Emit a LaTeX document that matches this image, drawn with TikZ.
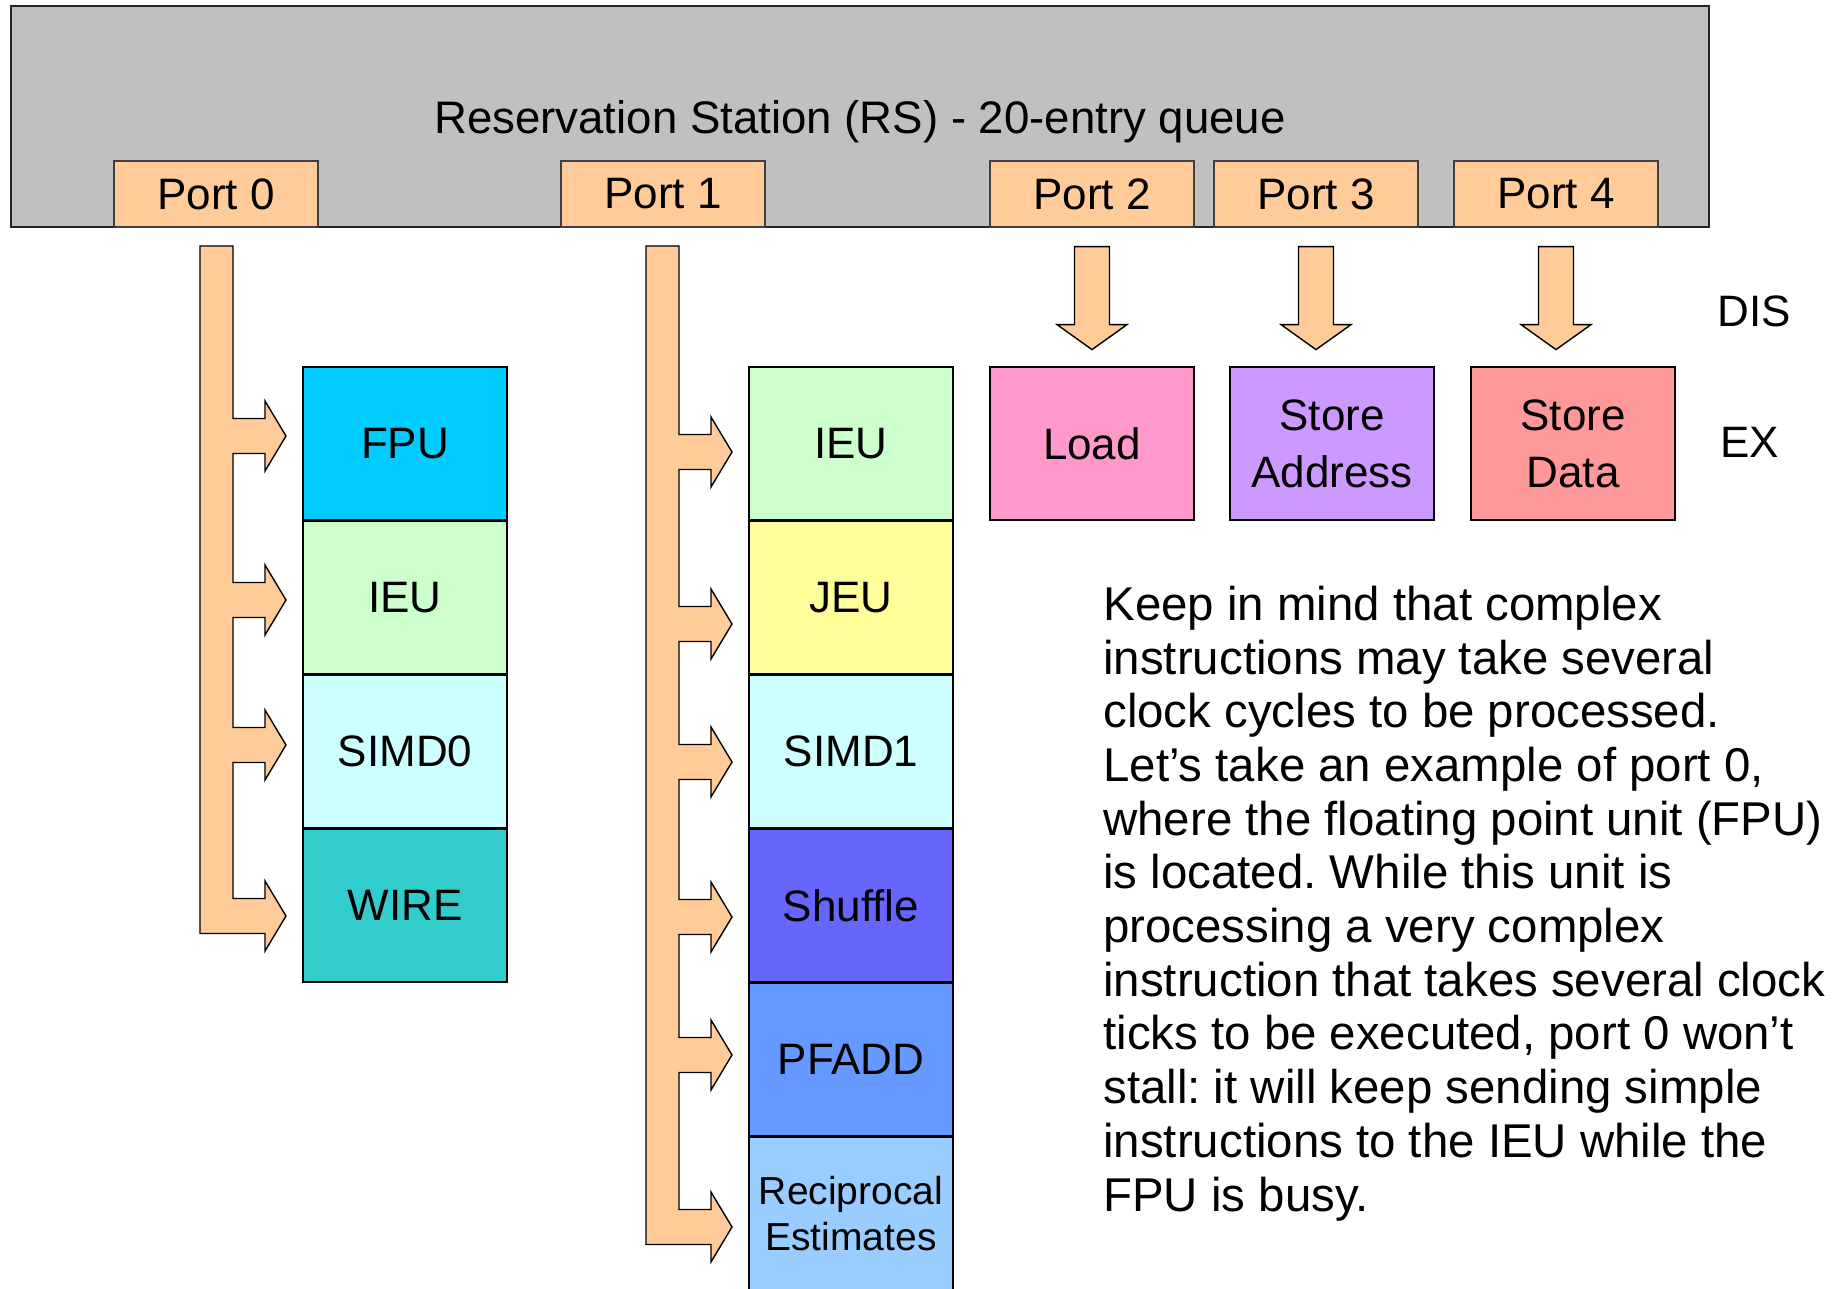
\documentclass[tikz,border=0pt]{standalone}
\usepackage{fontspec}
\setmainfont{Liberation Sans}
\usepackage{xcolor}
\usetikzlibrary{positioning}

\definecolor{rsgray}{HTML}{C0C0C0}
\definecolor{portorange}{HTML}{FFCC99}
\definecolor{fpucol}{HTML}{00CCFF}
\definecolor{ieucol}{HTML}{CCFFCC}
\definecolor{simdcol}{HTML}{CCFFFF}
\definecolor{wirecol}{HTML}{33CCCC}
\definecolor{jeucol}{HTML}{FFFF99}
\definecolor{shufcol}{HTML}{6666FF}
\definecolor{pfaddcol}{HTML}{6699FF}
\definecolor{recipcol}{HTML}{99CCFF}
\definecolor{loadcol}{HTML}{FF99CC}
\definecolor{staddrcol}{HTML}{CC99FF}
\definecolor{stdatacol}{HTML}{FF9999}

\begin{document}
\begin{tikzpicture}[
    x=50pt, y=-50pt,
    node distance=0pt,
    rs/.style={rectangle, draw=black!85, line width=0.9pt, fill=rsgray, minimum width=849pt, minimum height=110.5pt, text depth=0pt, font=\fontsize{22.8}{26}\selectfont},
    port/.style={rectangle, draw=black!75, line width=0.6pt, fill=portorange, minimum width=102pt, minimum height=33pt, inner sep=0pt, font=\fontsize{22}{26}\selectfont},
    unit/.style={rectangle, draw, line width=0.75pt, minimum width=102pt, minimum height=76.25pt, inner sep=0pt, align=center, font=\fontsize{22}{28.5}\selectfont},
    bus/.style={draw, line width=0.7pt, fill=portorange},
    stage/.style={anchor=base west, inner sep=0pt, font=\fontsize{22}{26}\selectfont}
]
\useasboundingbox (0,0) rectangle (18.48,12.89);

% reservation station with its five ports
\node[rs] (rs) at (8.60,1.165) {Reservation Station (RS) - 20-entry queue};
\node[port] (p0) at (2.16,1.94) {Port 0};
\node[port] (p1) at (6.63,1.94) {Port 1};
\node[port] (p2) at (10.92,1.94) {Port 2};
\node[port] (p3) at (13.16,1.94) {Port 3};
\node[port] (p4) at (15.56,1.94) {Port 4};

% dispatch buses of port 0 and port 1
\filldraw[bus] (2.00,2.46) -- (2.33,2.46)
  \foreach \y in {4.36,6.00,7.45,9.16} {
    -- (2.33,\y-0.175) -- ++(0.32,0) -- ++(0,-0.175) -- ++(0.21,0.35) -- ++(-0.21,0.35) -- ++(0,-0.175) -- ++(-0.32,0)
  } -- (2.00,9.335) -- cycle;
\filldraw[bus] (6.46,2.46) -- (6.79,2.46)
  \foreach \y in {4.52,6.24,7.62,9.17,10.55,12.27} {
    -- (6.79,\y-0.175) -- ++(0.32,0) -- ++(0,-0.175) -- ++(0.21,0.35) -- ++(-0.21,0.35) -- ++(0,-0.175) -- ++(-0.32,0)
  } -- (6.46,12.445) -- cycle;

% port 2, 3, 4 go straight down
\foreach \p in {p2,p3,p4}
  \filldraw[bus] ([yshift=-9.5pt]\p.south) ++(-0.175,0) -- ++(0.35,0) -- ++(0,0.78) -- ++(0.175,0) -- ++(-0.35,0.25) -- ++(-0.35,-0.25) -- ++(0.175,0) -- cycle;

% execution units
\node[unit, fill=fpucol] (fpu) at (4.05,4.435) {FPU};
\node[unit, fill=ieucol, below=of fpu] (ieu0) {IEU};
\node[unit, fill=simdcol, below=of ieu0] (simd0) {SIMD0};
\node[unit, fill=wirecol, below=of simd0] (wire) {WIRE};

\node[unit, fill=ieucol] (ieu1) at (8.51,4.435) {IEU};
\node[unit, fill=jeucol, below=of ieu1] (jeu) {JEU};
\node[unit, fill=simdcol, below=of jeu] (simd1) {SIMD1};
\node[unit, fill=shufcol, below=of simd1] (shuffle) {Shuffle};
\node[unit, fill=pfaddcol, below=of shuffle] (pfadd) {PFADD};
\node[unit, fill=recipcol, below=of pfadd, font=\fontsize{19.5}{23}\selectfont] (recip) {Reciprocal\\Estimates};

\node[unit, fill=loadcol] (load) at (10.92,4.435) {Load};
\node[unit, fill=staddrcol] (staddr) at (13.32,4.435) {Store\\Address};
\node[unit, fill=stdatacol] (stdata) at (15.73,4.435) {Store\\Data};

\node[stage] (dis) at (17.17,3.27) {DIS};
\node[stage] (ex) at (17.20,4.57) {EX};

\node[anchor=base west, align=left, inner sep=0pt, font=\fontsize{23.7}{26.85}\selectfont\frenchspacing] (note) at (11.03,12.11)
  {Keep in mind that complex\\
   instructions may take several\\
   clock cycles to be processed.\\
   Let’s take an example of port 0,\\
   where the floating point unit (FPU)\\
   is located. While this unit is\\
   processing a very complex\\
   instruction that takes several clock\\
   ticks to be executed, port 0 won’t\\
   stall: it will keep sending simple\\
   instructions to the IEU while the\\
   FPU is busy.};
\end{tikzpicture}
\end{document}
